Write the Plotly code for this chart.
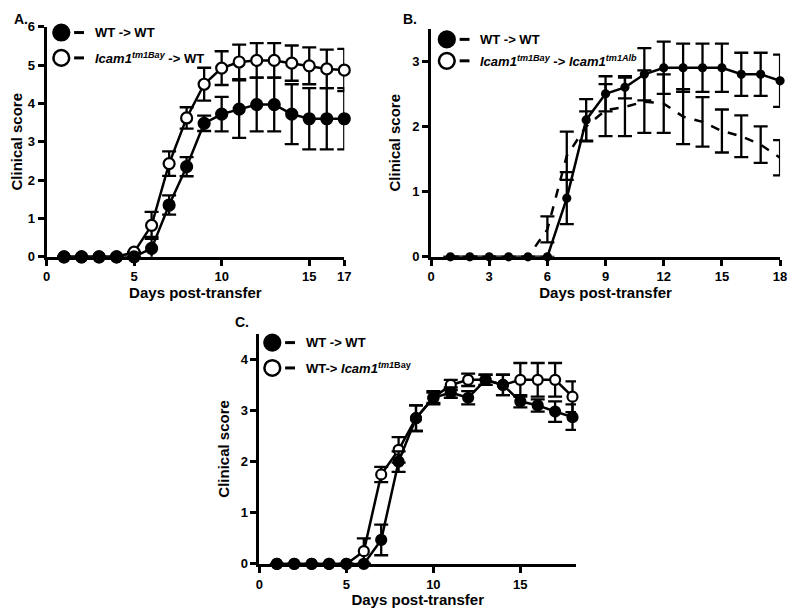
import plotly.graph_objects as go

# ---------- data ----------
# Panel A
days_a = list(range(1, 18))
a_wt = [0, 0, 0, 0, 0, 0.22, 1.35, 2.35, 3.48, 3.72, 3.85, 3.97, 3.97, 3.72, 3.6, 3.6, 3.6]
a_wt_err = [0, 0, 0, 0, 0, 0.3, 0.25, 0.25, 0.2, 0.45, 0.75, 0.7, 0.7, 0.78, 0.8, 0.8, 0.8]
a_ko = [0, 0, 0, 0, 0.12, 0.82, 2.43, 3.62, 4.5, 4.92, 5.08, 5.12, 5.12, 5.05, 4.98, 4.9, 4.87]
a_ko_err = [0, 0, 0, 0, 0, 0.35, 0.32, 0.28, 0.43, 0.44, 0.45, 0.45, 0.45, 0.46, 0.48, 0.5, 0.55]

# Panel B
days_b = list(range(1, 19))
b_wt = [0, 0, 0, 0, 0, 0, 0.9, 2.1, 2.5, 2.6, 2.8, 2.9, 2.9, 2.9, 2.9, 2.8, 2.8, 2.7]
b_wt_err = [0, 0, 0, 0, 0, 0, 0.4, 0.32, 0.27, 0.17, 0.4, 0.4, 0.37, 0.37, 0.37, 0.33, 0.33, 0.4]
b_ko = [0, 0, 0, 0, 0, 0.42, 1.55, 2.0, 2.25, 2.3, 2.38, 2.35, 2.15, 2.07, 1.93, 1.85, 1.72, 1.52]
b_ko_err = [0, 0, 0, 0, 0, 0.2, 0.37, 0.23, 0.4, 0.45, 0.48, 0.45, 0.42, 0.38, 0.33, 0.32, 0.28, 0.27]

# Panel C
days_c = list(range(1, 19))
c_wt = [0, 0, 0, 0, 0, 0, 0.47, 2.0, 2.85, 3.25, 3.35, 3.25, 3.6, 3.5, 3.18, 3.1, 2.98, 2.87]
c_wt_err = [0, 0, 0, 0, 0, 0, 0.3, 0.2, 0.25, 0.13, 0.1, 0.13, 0.1, 0.2, 0.12, 0.12, 0.2, 0.25]
c_ko = [0, 0, 0, 0, 0, 0.25, 1.75, 2.23, 2.85, 3.25, 3.5, 3.6, 3.6, 3.5, 3.6, 3.6, 3.6, 3.27]
c_ko_err = [0, 0, 0, 0, 0, 0.25, 0.15, 0.25, 0.25, 0.1, 0.1, 0.12, 0.1, 0.2, 0.33, 0.33, 0.33, 0.3]

FONT = "Liberation Sans"
# page has an 8px body margin, so the figure is shrunk to fit and offset
OFF = 8
W, H = 800 - 2 * OFF, 616 - 2 * OFF


def px(x):
    return (x - OFF) / W


def py(y):
    return 1 - (y - OFF) / H


fig = go.Figure()


def add_series(x, y, err, ax, filled, size=11, dash="solid", markers=True, cap=7):
    fig.add_trace(go.Scatter(
        x=x, y=y, xaxis="x" + ax, yaxis="y" + ax,
        mode="lines+markers" if markers else "lines",
        line=dict(color="black", width=2.5, dash=dash),
        marker=dict(size=size, color="black" if filled else "white",
                    line=dict(color="black", width=2.2)),
        error_y=dict(type="data", array=err, color="black", thickness=2.3, width=cap),
        cliponaxis=False, showlegend=False,
    ))


add_series(days_a, a_ko, a_ko_err, "", False)
add_series(days_a, a_wt, a_wt_err, "", True)
add_series(days_b, b_ko, b_ko_err, "2", False, dash="dash", markers=False)
add_series(days_b, b_wt, b_wt_err, "2", True, size=7)
add_series(days_c, c_ko, c_ko_err, "3", False, size=10)
add_series(days_c, c_wt, c_wt_err, "3", True, size=10)

axis_style = dict(showline=True, linecolor="black", linewidth=3, ticks="outside",
                  ticklen=6, tickwidth=2.5, tickcolor="black", showgrid=False,
                  zeroline=False, layer="below traces",
                  tickfont=dict(family=FONT, size=13, color="black", weight="bold"))
title_font = dict(family=FONT, size=15, color="black", weight="bold")

fig.update_layout(
    width=W, height=H, margin=dict(l=0, r=0, t=0, b=0),
    paper_bgcolor="white", plot_bgcolor="white",
    xaxis=dict(domain=[px(43), px(345)], range=[0, 17], tickvals=[0, 5, 10, 15, 17],
               anchor="y", title=dict(text="Days post-transfer", font=title_font, standoff=2), **axis_style),
    yaxis=dict(domain=[py(256), py(20)], range=[0, 6], dtick=1, anchor="x",
               title=dict(text="Clinical score", font=title_font, standoff=8), **axis_style),
    xaxis2=dict(domain=[px(433), px(787)], range=[0, 18], dtick=3, anchor="y2",
                title=dict(text="Days post-transfer", font=title_font, standoff=2), **axis_style),
    yaxis2=dict(domain=[py(256), py(22)], range=[0, 3.5], tickvals=[0, 1, 2, 3], anchor="x2",
                title=dict(text="Clinical score", font=title_font, standoff=8), **axis_style),
    xaxis3=dict(domain=[px(259), px(580)], range=[0, 18.2], tickvals=[0, 5, 10, 15], anchor="y3",
                title=dict(text="Days post-transfer", font=title_font, standoff=2), **axis_style),
    yaxis3=dict(domain=[py(571), py(335)], range=[0, 4.5], dtick=1, anchor="x3",
                title=dict(text="Clinical score", font=title_font, standoff=8), **axis_style),
)

# panel letters
for txt, x, y in [("A.", 8, 12), ("B.", 403, 12), ("C.", 232, 323)]:
    fig.add_annotation(text=txt, x=px(x), y=py(y), xref="paper", yref="paper",
                       showarrow=False, xanchor="left", yanchor="middle",
                       font=dict(family=FONT, size=14, color="black", weight="bold"))

# custom legends
legends = [
    (58, 26, 52, ["WT -> WT", "<i>Icam1<sup>tm1Bay</sup></i> -> WT"]),
    (449, 33, 55, ["WT -> WT", "<i>Icam1<sup>tm1Bay</sup></i> -> <i>Icam1<sup>tm1Alb</sup></i>"]),
    (272, 344, 370, ["WT -> WT", "WT-> <i>Icam1<sup>tm1</sup></i><sup>Bay</sup>"]),
]
r = 8
for cx, y1, y2, labels in legends:
    for yy, lab, filled in [(y1, labels[0], True), (y2, labels[1], False)]:
        fig.add_shape(type="circle", xref="paper", yref="paper",
                      x0=px(cx - r), x1=px(cx + r), y0=py(yy + r), y1=py(yy - r),
                      line=dict(color="black", width=2.5),
                      fillcolor="black" if filled else "white")
        fig.add_shape(type="line", xref="paper", yref="paper",
                      x0=px(cx + 13), x1=px(cx + 23), y0=py(yy), y1=py(yy),
                      line=dict(color="black", width=3))
        fig.add_annotation(text=lab, x=px(cx + 32), y=py(yy), xref="paper", yref="paper",
                           showarrow=False, xanchor="left", yanchor="middle",
                           font=dict(family=FONT, size=13, color="black", weight="bold"))

fig.write_html("out.html")
